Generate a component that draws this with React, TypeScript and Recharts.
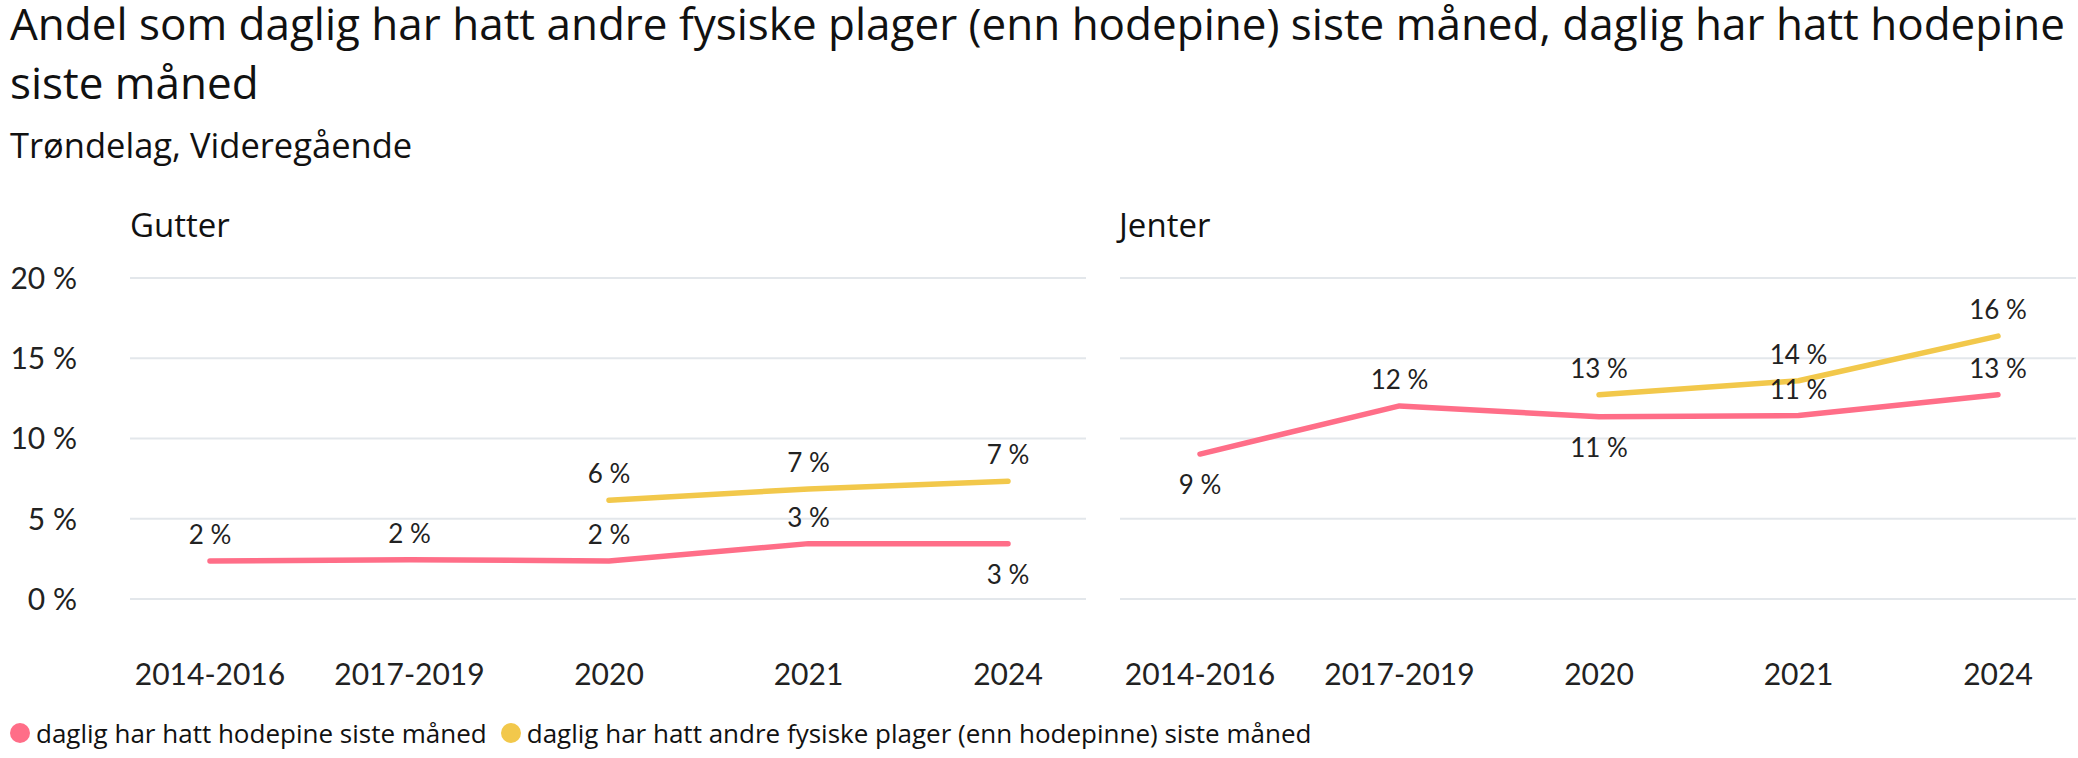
import { LineChart, Line, XAxis, YAxis, CartesianGrid, LabelList } from 'recharts'

const periods = ['2014-2016', '2017-2019', '2020', '2021', '2024']
const yTicks = [0, 5, 10, 15, 20]

// Gutter
const gutterHodepine = [2.37, 2.45, 2.37, 3.45, 3.45]
const gutterAndre = [null, null, 6.16, 6.86, 7.34]

// Jenter
const jenterHodepine = [9.03, 12.03, 11.36, 11.43, 12.73]
const jenterAndre = [null, null, 12.73, 13.6, 16.38]

// where each value label sits relative to its point
const gutterHodepineSide = ['top', 'top', 'top', 'top', 'bottom']
const gutterAndreSide = ['top', 'top', 'top', 'top', 'top']
const jenterHodepineSide = ['bottom', 'top', 'bottom', 'top', 'top']
const jenterAndreSide = ['top', 'top', 'top', 'top', 'top']

const PINK = '#ff6e88'
const YELLOW = '#f2c84b'
const NUM_FONT = 'Lato, "Open Sans", sans-serif'
const TEXT_FONT = '"Open Sans", Lato, sans-serif'

const legendItems = [
  { name: 'daglig har hatt hodepine siste måned', color: PINK },
  { name: 'daglig har hatt andre fysiske plager (enn hodepinne) siste måned', color: YELLOW },
]

function buildRows(hode: (number | null)[], andre: (number | null)[]) {
  return periods.map((period, i) => ({ period, hode: hode[i], andre: andre[i] }))
}

const gutterData = buildRows(gutterHodepine, gutterAndre)
const jenterData = buildRows(jenterHodepine, jenterAndre)

function makeLabel(sides: string[]) {
  return (props: any) => {
    const { value, index } = props
    if (value == null) return null
    const x = props.x ?? props.viewBox?.x
    const y = props.y ?? props.viewBox?.y
    const below = sides[index] === 'bottom'
    return (
      <text
        x={x}
        y={below ? y + 40 : y - 17}
        textAnchor="middle"
        fontFamily={NUM_FONT}
        fontSize={26}
        fill="#222"
      >
        {`${Math.round(value)} %`}
      </text>
    )
  }
}

const XTick = (props: any) => (
  <text x={props.x} y={props.y} textAnchor="middle" fontFamily={NUM_FONT} fontSize={30} fill="#222">
    {props.payload.value}
  </text>
)

const YTick = (props: any) => (
  <text x={props.x} y={props.y} dy="0.36em" textAnchor="end" fontFamily={NUM_FONT} fontSize={30} fill="#222">
    {`${props.payload.value} %`}
  </text>
)

interface PanelProps {
  data: any[]
  hodeSide: string[]
  andreSide: string[]
  showY: boolean
  width: number
}

function Panel({ data, hodeSide, andreSide, showY, width }: PanelProps) {
  return (
    <LineChart
      width={width}
      height={700}
      data={data}
      margin={{ top: 278, right: 2, bottom: 0, left: 0 }}
    >
      <CartesianGrid vertical={false} stroke="#e3e7eb" strokeWidth={2} />
      <XAxis
        dataKey="period"
        interval={0}
        padding={{ left: 80, right: 78 }}
        axisLine={false}
        tickLine={false}
        tickSize={0}
        tickMargin={86}
        height={101}
        tick={<XTick />}
      />
      <YAxis
        hide={!showY}
        width={130}
        domain={[0, 20]}
        ticks={yTicks}
        axisLine={false}
        tickLine={false}
        tickSize={0}
        tickMargin={53}
        tick={<YTick />}
      />
      <Line
        dataKey="hode"
        stroke={PINK}
        strokeWidth={5.5}
        strokeLinecap="round"
        strokeLinejoin="round"
        dot={false}
        activeDot={false}
        isAnimationActive={false}
      >
        <LabelList dataKey="hode" content={makeLabel(hodeSide)} />
      </Line>
      <Line
        dataKey="andre"
        stroke={YELLOW}
        strokeWidth={5.5}
        strokeLinecap="round"
        strokeLinejoin="round"
        dot={false}
        activeDot={false}
        isAnimationActive={false}
      >
        <LabelList dataKey="andre" content={makeLabel(andreSide)} />
      </Line>
    </LineChart>
  )
}

const textLine = (top: number, size: number, left = 10) => ({
  position: 'absolute' as const,
  left,
  top,
  fontSize: size,
  lineHeight: 1,
  color: '#111',
  whiteSpace: 'nowrap' as const,
})

export default function App() {
  return (
    <div
      style={{
        position: 'fixed',
        left: 0,
        top: 0,
        width: 2078,
        height: 758,
        background: '#fff',
        overflow: 'hidden',
        fontFamily: TEXT_FONT,
      }}
    >
      {/* top = baseline - 0.888 * fontSize for Open Sans at line-height 1 */}
      <div style={textLine(1, 44)}>
        Andel som daglig har hatt andre fysiske plager (enn hodepine) siste måned, daglig har hatt hodepine
      </div>
      <div style={textLine(60, 44)}>siste måned</div>
      <div style={textLine(128, 34.5)}>Trøndelag, Videregående</div>
      <div style={textLine(208, 33, 130)}>Gutter</div>
      <div style={textLine(208, 33, 1119)}>Jenter</div>

      <div style={{ position: 'absolute', left: 0, top: 0 }}>
        <Panel data={gutterData} hodeSide={gutterHodepineSide} andreSide={gutterAndreSide} showY width={1088} />
      </div>
      <div style={{ position: 'absolute', left: 1120, top: 0 }}>
        <Panel data={jenterData} hodeSide={jenterHodepineSide} andreSide={jenterAndreSide} showY={false} width={958} />
      </div>

      <div
        style={{
          position: 'absolute',
          left: 10,
          top: 718,
          display: 'flex',
          alignItems: 'center',
          fontSize: 26,
          lineHeight: '30px',
          color: '#111',
          whiteSpace: 'nowrap',
        }}
      >
        {legendItems.map((item) => (
          <div key={item.name} style={{ display: 'flex', alignItems: 'center', marginRight: 14 }}>
            <span
              style={{
                width: 20,
                height: 20,
                borderRadius: '50%',
                background: item.color,
                marginRight: 6,
                display: 'inline-block',
              }}
            />
            {item.name}
          </div>
        ))}
      </div>
    </div>
  )
}
